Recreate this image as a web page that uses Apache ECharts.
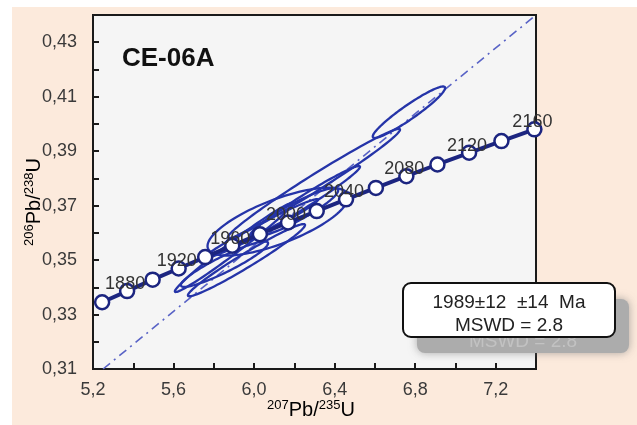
<!DOCTYPE html>
<html>
<head>
<meta charset="utf-8">
<script src="https://cdn.jsdelivr.net/npm/echarts@6/dist/echarts.min.js"></script>
<style>
html,body{margin:0;padding:0;background:#fff;}
#chart{width:637px;height:425px;}
</style>
</head>
<body>
<div id="chart"></div>
<script>
// Concordia ages (Ma) and their ratios
const ages = [1860,1880,1900,1920,1940,1960,1980,2000,2020,2040,2060,2080,2100,2120,2140,2160];
const concX = [5.2453,5.3695,5.4962,5.6254,5.7572,5.8916,6.0287,6.1685,6.3111,6.4566,6.6049,6.7562,6.9105,7.0678,7.2283,7.3920];
const concY = [0.3345,0.3386,0.3428,0.3469,0.3511,0.3553,0.3595,0.3638,0.3680,0.3723,0.3765,0.3808,0.3851,0.3894,0.3937,0.3980];

// Error ellipses: [207Pb/235U, 206Pb/238U, sigmaX, sigmaY, rho]
const ellipses = [
  [6.769, 0.4043, 0.1797, 0.00944, 0.944],
  [6.1186, 0.36414, 0.3499, 0.01246, 0.722],
  [6.2973, 0.37814, 0.4274, 0.02004, 0.985],
  [6.2526, 0.37169, 0.2734, 0.01284, 0.979],
  [5.8976, 0.35457, 0.2910, 0.01630, 0.986],
  [5.9622, 0.34996, 0.2909, 0.01325, 0.974],
  [5.8529, 0.34849, 0.2166, 0.00834, 0.920],
  [6.2030, 0.36746, 0.2147, 0.00897, 0.909],
  [6.0367, 0.36157, 0.2808, 0.01081, 0.981]
];

// Discordia end points
const discX = [5.25, 7.40];
const discY = [0.31, 0.44];

const sampleName = 'CE-06A';
const resultLine1 = '1989\u00b112  \u00b114  Ma';
const resultLine2 = 'MSWD = 2.8';

const chart = echarts.init(document.getElementById('chart'), null, {renderer:'canvas'});

const FONT = 'Liberation Sans, Arial, sans-serif';
const titleRich = {
  sup:{fontSize:13, lineHeight:14, verticalAlign:'top', fontFamily:FONT, color:'#222'},
  b:{fontSize:20, lineHeight:22, fontFamily:FONT, color:'#222'}
};

const option = {
  backgroundColor:'#fceadc',
  animation:false,
  grid:{left:93, top:15, right:101, bottom:56, show:true, backgroundColor:'#f5f5f5', borderColor:'#1a1a1a', borderWidth:2},
  xAxis:{
    type:'value', min:5.2, max:7.4, interval:0.2,
    axisLine:{show:true, onZero:false, lineStyle:{color:'#1a1a1a', width:2}},
    axisTick:{show:true, inside:true, length:6, lineStyle:{color:'#1a1a1a', width:2}},
    splitLine:{show:false},
    axisLabel:{margin:12, fontSize:18, fontFamily:FONT, color:'#3a3a3a',
      showMinLabel:true, showMaxLabel:true,
      formatter:v => (Math.round(v*10) % 4 === 0) ? v.toFixed(1).replace('.', ',') : ''}
  },
  yAxis:{
    type:'value', min:0.31, max:0.44, interval:0.01,
    axisLine:{show:true, onZero:false, lineStyle:{color:'#1a1a1a', width:2}},
    axisTick:{show:true, inside:true, length:6, lineStyle:{color:'#1a1a1a', width:2}},
    splitLine:{show:false},
    axisLabel:{margin:16, fontSize:18, fontFamily:FONT, color:'#3a3a3a',
      showMinLabel:true, showMaxLabel:true,
      formatter:v => (Math.round(v*100) % 2 === 1) ? v.toFixed(2).replace('.', ',') : ''}
  },
  series:[
    {
      type:'line', data:discX.map((x,i)=>[x, discY[i]]), symbol:'none', silent:true, z:1,
      lineStyle:{color:'#5963c6', width:1.6, type:[9,5,2,5]}
    },
    {
      type:'custom', z:2, silent:true,
      data:ellipses,
      dimensions:['x','y','sx','sy','rho'],
      encode:{x:0, y:1},
      renderItem:(params, api) => {
        const cx = api.value(0), cy = api.value(1), sx = api.value(2), sy = api.value(3), r = api.value(4);
        const q = Math.sqrt(1 - r*r);
        const pts = [];
        for (let i = 0; i < 120; i++) {
          const t = 2*Math.PI*i/120;
          pts.push(api.coord([cx + sx*Math.cos(t), cy + sy*(r*Math.cos(t) + q*Math.sin(t))]));
        }
        return {type:'polygon', shape:{points:pts}, style:{fill:'none', stroke:'#2534a8', lineWidth:2.3}};
      }
    },
    {
      type:'line', z:3, silent:true,
      data:concX.map((x,i)=>[x, concY[i], ages[i]]),
      symbol:'circle', symbolSize:14, showSymbol:true,
      itemStyle:{color:'#ffffff', borderColor:'#1c2580', borderWidth:2.5},
      lineStyle:{color:'#1c2580', width:4},
      label:{show:true, position:'inside', offset:[-2,-7], fontSize:18, fontFamily:FONT, color:'#333',
        formatter:p => (p.value[2] % 40 === 0) ? String(p.value[2]) : ''}
    }
  ],
  graphic:[
    {type:'rect', z:-10, left:0, top:0, shape:{width:637, height:7}, style:{fill:'#ffffff'}, silent:true},
    {type:'rect', z:-10, left:0, top:0, shape:{width:12, height:425}, style:{fill:'#ffffff'}, silent:true},
    {type:'text', x:122, y:59, z:10, style:{text:sampleName, font:'bold 26px ' + FONT, fill:'#111', verticalAlign:'middle', align:'left'}},
    {type:'text', x:34, y:202, rotation:Math.PI/2, z:10,
      style:{text:'{sup|206}{b|Pb/}{sup|238}{b|U}', rich:titleRich, align:'center', verticalAlign:'middle'}},
    {type:'text', x:311, y:410, z:10,
      style:{text:'{sup|207}{b|Pb/}{sup|235}{b|U}', rich:titleRich, align:'center', verticalAlign:'middle'}},
    // shadow copy of the result box
    {type:'rect', x:417, y:299, z:20, shape:{width:212, height:54, r:8},
      style:{fill:'#acacac', shadowBlur:8, shadowColor:'rgba(120,120,120,0.6)'}},
    {type:'text', x:523, y:342, z:21, style:{text:resultLine2, font:'19px ' + FONT, fill:'#c2c2c2', align:'center', verticalAlign:'middle'}},
    // result box
    {type:'rect', x:403, y:283, z:22, shape:{width:212, height:54, r:8},
      style:{fill:'#ffffff', stroke:'#111', lineWidth:2}},
    {type:'text', x:509, y:303, z:23, style:{text:resultLine1, font:'19px ' + FONT, fill:'#222', align:'center', verticalAlign:'middle'}},
    {type:'text', x:509, y:326, z:23, style:{text:resultLine2, font:'19px ' + FONT, fill:'#222', align:'center', verticalAlign:'middle'}}
  ]
};
chart.setOption(option);
</script>
</body>
</html>
